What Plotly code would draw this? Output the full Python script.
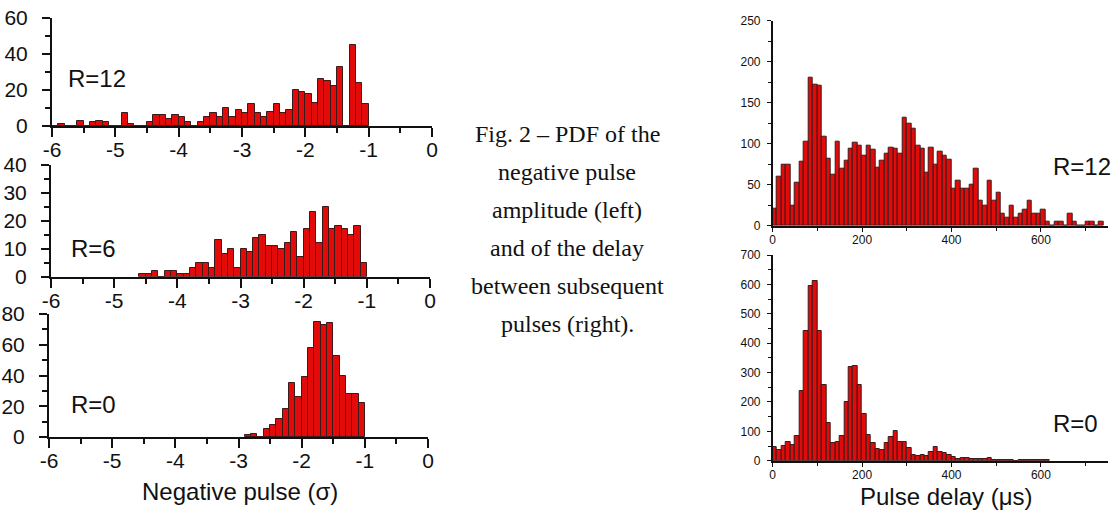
import plotly.graph_objects as go

# ---------------- data ----------------
# Negative pulse amplitude histograms: bin left edges (sigma) and counts
neg_bin_width = 0.1
neg_r12_bins = [-6.0, -5.9, -5.8, -5.7, -5.6, -5.5, -5.4, -5.3, -5.2, -5.1,
                -5.0, -4.9, -4.8, -4.7, -4.6, -4.5, -4.4, -4.3, -4.2, -4.1,
                -4.0, -3.9, -3.8, -3.7, -3.6, -3.5, -3.4, -3.3, -3.2, -3.1,
                -3.0, -2.9, -2.8, -2.7, -2.6, -2.5, -2.4, -2.3, -2.2, -2.1,
                -2.0, -1.9, -1.8, -1.7, -1.6, -1.5, -1.4, -1.3, -1.2, -1.1]
neg_r12_counts = [0, 1, 0, 0, 3, 0, 2, 3, 2, 0,
                  0, 7, 1, 0, 0, 2, 6, 6, 4, 6,
                  5, 2, 0, 2, 5, 7, 5, 10, 5, 9,
                  7, 12, 7, 5, 8, 12, 7, 9, 20, 19,
                  18, 13, 26, 25, 22, 33, 0, 45, 24, 12]

neg_r6_bins = [-4.6, -4.5, -4.4, -4.3, -4.2, -4.1,
               -4.0, -3.9, -3.8, -3.7, -3.6, -3.5, -3.4, -3.3, -3.2, -3.1,
               -3.0, -2.9, -2.8, -2.7, -2.6, -2.5, -2.4, -2.3, -2.2, -2.1,
               -2.0, -1.9, -1.8, -1.7, -1.6, -1.5, -1.4, -1.3, -1.2, -1.1]
neg_r6_counts = [1, 1, 2, 0, 2, 2,
                 1, 1, 3, 5, 5, 3, 13, 8, 10, 3,
                 10, 9, 14, 15, 11, 11, 10, 12, 16, 7,
                 17, 23, 12, 25, 17, 18, 17, 15, 18, 5]

neg_r0_bins = [-2.9, -2.8, -2.7, -2.6, -2.5, -2.4, -2.3, -2.2, -2.1,
               -2.0, -1.9, -1.8, -1.7, -1.6, -1.5, -1.4, -1.3, -1.2, -1.1]
neg_r0_counts = [1, 2, 0, 5, 8, 12, 18, 35, 26,
                 39, 58, 75, 73, 74, 53, 40, 28, 28, 22]

# Pulse delay histograms: bin left edges (microseconds) and counts
delay_bin_width = 10
delay_r12_bins = [0, 10, 20, 30, 40, 50, 60, 70, 80, 90,
                  100, 110, 120, 130, 140, 150, 160, 170, 180, 190,
                  200, 210, 220, 230, 240, 250, 260, 270, 280, 290,
                  300, 310, 320, 330, 340, 350, 360, 370, 380, 390,
                  400, 410, 420, 430, 440, 450, 460, 470, 480, 490,
                  500, 510, 520, 530, 540, 550, 560, 570, 580, 590,
                  600, 610, 620, 630, 640, 650, 660, 670, 680, 690,
                  700, 710, 720, 730]
delay_r12_counts = [21, 60, 74, 74, 25, 52, 78, 103, 180, 172,
                    171, 108, 82, 62, 102, 70, 79, 94, 101, 98,
                    85, 98, 93, 71, 79, 88, 95, 94, 88, 132,
                    125, 118, 97, 94, 65, 95, 75, 90, 85, 80,
                    45, 55, 45, 45, 50, 70, 30, 25, 55, 30,
                    40, 15, 10, 25, 10, 15, 20, 30, 15, 15,
                    20, 5, 0, 5, 5, 0, 15, 5, 0, 0,
                    5, 5, 0, 5]

delay_r0_bins = [0, 10, 20, 30, 40, 50, 60, 70, 80, 90,
                 100, 110, 120, 130, 140, 150, 160, 170, 180, 190,
                 200, 210, 220, 230, 240, 250, 260, 270, 280, 290,
                 300, 310, 320, 330, 340, 350, 360, 370, 380, 390,
                 400, 410, 420, 430, 440, 450, 460, 470, 480, 490,
                 500, 510, 520, 530, 540, 550, 560, 570, 580, 590,
                 600, 610]
delay_r0_counts = [48, 35, 49, 62, 53, 83, 236, 443, 593, 610,
                   440, 259, 128, 61, 64, 83, 200, 318, 323, 258,
                   159, 88, 60, 39, 35, 59, 79, 101, 65, 65,
                   43, 19, 15, 20, 15, 28, 45, 30, 25, 18,
                   12, 6, 8, 8, 6, 6, 7, 6, 8, 3,
                   2, 3, 2, 1, 0, 2, 1, 3, 2, 2,
                   1, 2]

neg_tick_vals = [-6, -5, -4, -3, -2, -1, 0]
neg_tick_text = ["-6", "-5", "-4", "-3", "-2", "-1", "0"]
delay_tick_vals = [0, 200, 400, 600]

panel_labels = ["R=12", "R=6", "R=0", "R=12", "R=0"]
neg_axis_title = "Negative pulse (σ)"
delay_axis_title = "Pulse delay (μs)"
caption_lines = ["Fig. 2 – PDF of the", "negative pulse", "amplitude (left)",
                 "and of the delay", "between subsequent", "pulses (right)."]

# ---------------- style ----------------
W, H = 1116, 510
RED = "#e30a0a"
EDGE = "#3b1a1a"
SANS = "Liberation Sans, Arial, sans-serif"
SERIF = "Liberation Serif, Times New Roman, serif"
INK = "#111111"


def px_x(a, b):
    return [a / W, b / W]


def px_y(bottom, top):
    return [1 - bottom / H, 1 - top / H]


fig = go.Figure()


def add_hist(bins, counts, width, xa, ya):
    fig.add_trace(go.Bar(
        x=[b + width / 2 for b in bins], y=counts, width=width,
        marker=dict(color=RED, line=dict(color=EDGE, width=1)),
        xaxis=xa, yaxis=ya, showlegend=False, hoverinfo="x+y"))


add_hist(neg_r12_bins, neg_r12_counts, neg_bin_width, "x", "y")
add_hist(neg_r6_bins, neg_r6_counts, neg_bin_width, "x2", "y2")
add_hist(neg_r0_bins, neg_r0_counts, neg_bin_width, "x3", "y3")
add_hist(delay_r12_bins, delay_r12_counts, delay_bin_width, "x4", "y4")
add_hist(delay_r0_bins, delay_r0_counts, delay_bin_width, "x5", "y5")


def left_x(domain, anchor):
    return dict(domain=domain, anchor=anchor, range=[-6, 0], showline=True,
                linecolor=INK, linewidth=2, ticks="outside", ticklen=9,
                tickwidth=1.5, tickcolor=INK, tickmode="array",
                tickvals=neg_tick_vals, ticktext=neg_tick_text,
                tickfont=dict(family=SANS, size=21, color=INK),
                ticklabelstandoff=-5,
                minor=dict(ticks="outside", ticklen=5, dtick=0.5, tick0=0,
                           tickcolor=INK, tickwidth=1.5, showgrid=False),
                showgrid=False, zeroline=False, fixedrange=True,
                automargin=False)


def left_y(domain, anchor, top, dtick):
    return dict(domain=domain, anchor=anchor, range=[0, top], showline=True,
                linecolor=INK, linewidth=2, ticks="outside", ticklen=8,
                tickwidth=1.5, tickcolor=INK, dtick=dtick, tick0=0,
                tickfont=dict(family=SANS, size=21, color=INK),
                ticklabelstandoff=10,
                minor=dict(ticks="outside", ticklen=5, dtick=dtick / 2, tick0=0,
                           tickcolor=INK, tickwidth=1.5, showgrid=False),
                showgrid=False, zeroline=False, fixedrange=True,
                automargin=False)


def right_x(domain, anchor):
    return dict(domain=domain, anchor=anchor, range=[0, 750], showline=True,
                linecolor=INK, linewidth=1.5, ticks="outside", ticklen=5,
                tickwidth=1.2, tickcolor=INK, tickmode="array",
                tickvals=delay_tick_vals,
                tickfont=dict(family=SANS, size=12, color=INK),
                ticklabelstandoff=-3,
                minor=dict(ticks="outside", ticklen=4, dtick=100, tick0=0,
                           tickcolor=INK, tickwidth=1.2, showgrid=False),
                showgrid=False, zeroline=False, fixedrange=True,
                automargin=False)


def right_y(domain, anchor, top, dtick):
    return dict(domain=domain, anchor=anchor, range=[0, top], showline=True,
                linecolor=INK, linewidth=1.5, ticks="outside", ticklen=4,
                tickwidth=1.2, tickcolor=INK, dtick=dtick, tick0=0,
                tickfont=dict(family=SANS, size=12, color=INK),
                ticklabelstandoff=4,
                minor=dict(ticks="outside", ticklen=3, dtick=dtick / 2, tick0=0,
                           tickcolor=INK, tickwidth=1.2, showgrid=False),
                showgrid=False, zeroline=False, fixedrange=True,
                automargin=False)


fig.update_layout(
    width=W, height=H, autosize=False,
    margin=dict(l=0, r=0, t=0, b=0, pad=0, autoexpand=False),
    paper_bgcolor="white", plot_bgcolor="white",
    bargap=0, showlegend=False,
    xaxis=left_x(px_x(52, 432), "y"),
    yaxis=left_y(px_y(126, 18), "x", 60, 20),
    xaxis2=left_x(px_x(51, 430), "y2"),
    yaxis2=left_y(px_y(276.7, 165), "x2", 40, 10),
    xaxis3=left_x(px_x(49, 428), "y3"),
    yaxis3=left_y(px_y(437, 314), "x3", 80, 20),
    xaxis4=right_x(px_x(772.7, 1108), "y4"),
    yaxis4=right_y(px_y(225.7, 20.7), "x4", 250, 50),
    xaxis5=right_x(px_x(772.7, 1108), "y5"),
    yaxis5=right_y(px_y(460.7, 255), "x5", 700, 100),
)

annotations = []


def paper_text(text, x_px, y_px, size, family=SANS, xanchor="center"):
    annotations.append(dict(
        text=text, x=x_px / W, y=1 - y_px / H, xref="paper", yref="paper",
        xanchor=xanchor, yanchor="middle", showarrow=False,
        font=dict(family=family, size=size, color=INK)))


# panel labels
paper_text(panel_labels[0], 66, 78, 24, xanchor="left")
paper_text(panel_labels[1], 69, 248, 24, xanchor="left")
paper_text(panel_labels[2], 69, 404, 24, xanchor="left")
paper_text(panel_labels[3], 1051, 167, 24, xanchor="left")
paper_text(panel_labels[4], 1051, 423, 24, xanchor="left")

# axis titles
paper_text(neg_axis_title, 240, 491, 24)
paper_text(delay_axis_title, 946, 496, 24)

# caption
for i, line in enumerate(caption_lines):
    paper_text(line, 567, 134 + 38 * i, 24, family=SERIF)

fig.update_layout(annotations=annotations)

fig.write_html("out.html")
